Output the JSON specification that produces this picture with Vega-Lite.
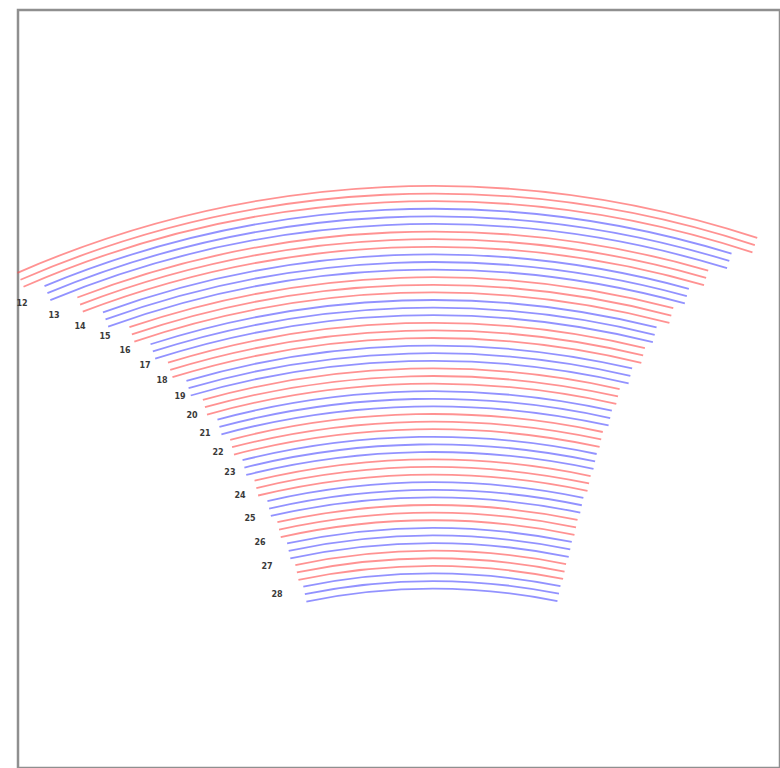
{
  "$schema": "https://vega.github.io/schema/vega-lite/v6.json",
  "width": 762,
  "height": 758,
  "padding": {"left": 18, "top": 10, "right": 0, "bottom": 0},
  "autosize": {"type": "none"},
  "background": "white",
  "config": {"view": {"stroke": "#8f8f8f", "strokeWidth": 2.5}},
  "datasets": {
    "arcs": [
      {"group": 1, "line": 1, "r": 51.90, "start": -23.6, "end": 18.2, "band": "odd"},
      {"group": 1, "line": 2, "r": 51.52, "start": -23.6, "end": 18.2, "band": "odd"},
      {"group": 1, "line": 3, "r": 51.14, "start": -23.6, "end": 18.2, "band": "odd"},
      {"group": 2, "line": 1, "r": 50.76, "start": -22.5, "end": 17.1, "band": "even"},
      {"group": 2, "line": 2, "r": 50.38, "start": -22.5, "end": 17.1, "band": "even"},
      {"group": 2, "line": 3, "r": 50.00, "start": -22.5, "end": 17.1, "band": "even"},
      {"group": 3, "line": 1, "r": 49.62, "start": -21.0, "end": 16.1, "band": "odd"},
      {"group": 3, "line": 2, "r": 49.24, "start": -21.0, "end": 16.1, "band": "odd"},
      {"group": 3, "line": 3, "r": 48.86, "start": -21.0, "end": 16.1, "band": "odd"},
      {"group": 4, "line": 1, "r": 48.48, "start": -19.9, "end": 15.3, "band": "even"},
      {"group": 4, "line": 2, "r": 48.10, "start": -19.9, "end": 15.3, "band": "even"},
      {"group": 4, "line": 3, "r": 47.72, "start": -19.9, "end": 15.3, "band": "even"},
      {"group": 5, "line": 1, "r": 47.34, "start": -18.7, "end": 14.7, "band": "odd"},
      {"group": 5, "line": 2, "r": 46.96, "start": -18.7, "end": 14.7, "band": "odd"},
      {"group": 5, "line": 3, "r": 46.58, "start": -18.7, "end": 14.7, "band": "odd"},
      {"group": 6, "line": 1, "r": 46.20, "start": -17.8, "end": 14.0, "band": "even"},
      {"group": 6, "line": 2, "r": 45.82, "start": -17.8, "end": 14.0, "band": "even"},
      {"group": 6, "line": 3, "r": 45.44, "start": -17.8, "end": 14.0, "band": "even"},
      {"group": 7, "line": 1, "r": 45.06, "start": -17.1, "end": 13.6, "band": "odd"},
      {"group": 7, "line": 2, "r": 44.68, "start": -17.1, "end": 13.6, "band": "odd"},
      {"group": 7, "line": 3, "r": 44.30, "start": -17.1, "end": 13.6, "band": "odd"},
      {"group": 8, "line": 1, "r": 43.92, "start": -16.3, "end": 13.1, "band": "even"},
      {"group": 8, "line": 2, "r": 43.54, "start": -16.3, "end": 13.1, "band": "even"},
      {"group": 8, "line": 3, "r": 43.16, "start": -16.3, "end": 13.1, "band": "even"},
      {"group": 9, "line": 1, "r": 42.78, "start": -15.6, "end": 12.6, "band": "odd"},
      {"group": 9, "line": 2, "r": 42.40, "start": -15.6, "end": 12.6, "band": "odd"},
      {"group": 9, "line": 3, "r": 42.02, "start": -15.6, "end": 12.6, "band": "odd"},
      {"group": 10, "line": 1, "r": 41.64, "start": -15.0, "end": 12.4, "band": "even"},
      {"group": 10, "line": 2, "r": 41.26, "start": -15.0, "end": 12.4, "band": "even"},
      {"group": 10, "line": 3, "r": 40.88, "start": -15.0, "end": 12.4, "band": "even"},
      {"group": 11, "line": 1, "r": 40.50, "start": -14.5, "end": 12.1, "band": "odd"},
      {"group": 11, "line": 2, "r": 40.12, "start": -14.5, "end": 12.1, "band": "odd"},
      {"group": 11, "line": 3, "r": 39.74, "start": -14.5, "end": 12.1, "band": "odd"},
      {"group": 12, "line": 1, "r": 39.36, "start": -14.0, "end": 12.0, "band": "even"},
      {"group": 12, "line": 2, "r": 38.98, "start": -14.0, "end": 12.0, "band": "even"},
      {"group": 12, "line": 3, "r": 38.60, "start": -14.0, "end": 12.0, "band": "even"},
      {"group": 13, "line": 1, "r": 38.22, "start": -13.5, "end": 11.9, "band": "odd"},
      {"group": 13, "line": 2, "r": 37.84, "start": -13.5, "end": 11.9, "band": "odd"},
      {"group": 13, "line": 3, "r": 37.46, "start": -13.5, "end": 11.9, "band": "odd"},
      {"group": 14, "line": 1, "r": 37.08, "start": -12.9, "end": 11.7, "band": "even"},
      {"group": 14, "line": 2, "r": 36.70, "start": -12.9, "end": 11.7, "band": "even"},
      {"group": 14, "line": 3, "r": 36.32, "start": -12.9, "end": 11.7, "band": "even"},
      {"group": 15, "line": 1, "r": 35.94, "start": -12.5, "end": 11.6, "band": "odd"},
      {"group": 15, "line": 2, "r": 35.56, "start": -12.5, "end": 11.6, "band": "odd"},
      {"group": 15, "line": 3, "r": 35.18, "start": -12.5, "end": 11.6, "band": "odd"},
      {"group": 16, "line": 1, "r": 34.80, "start": -12.1, "end": 11.5, "band": "even"},
      {"group": 16, "line": 2, "r": 34.42, "start": -12.1, "end": 11.5, "band": "even"},
      {"group": 16, "line": 3, "r": 34.04, "start": -12.1, "end": 11.5, "band": "even"},
      {"group": 17, "line": 1, "r": 33.66, "start": -11.8, "end": 11.4, "band": "odd"},
      {"group": 17, "line": 2, "r": 33.28, "start": -11.8, "end": 11.4, "band": "odd"},
      {"group": 17, "line": 3, "r": 32.90, "start": -11.8, "end": 11.4, "band": "odd"},
      {"group": 18, "line": 1, "r": 32.52, "start": -11.5, "end": 11.3, "band": "even"},
      {"group": 18, "line": 2, "r": 32.14, "start": -11.5, "end": 11.3, "band": "even"},
      {"group": 18, "line": 3, "r": 31.76, "start": -11.5, "end": 11.3, "band": "even"}
    ],
    "labels": [
      {"row": "12", "r": 50.38, "angle": -24.07},
      {"row": "13", "r": 49.20, "angle": -22.65},
      {"row": "14", "r": 48.20, "angle": -21.48},
      {"row": "15", "r": 47.29, "angle": -20.29},
      {"row": "16", "r": 46.29, "angle": -19.43},
      {"row": "17", "r": 45.25, "angle": -18.55},
      {"row": "18", "r": 44.28, "angle": -17.82},
      {"row": "19", "r": 43.24, "angle": -17.01},
      {"row": "20", "r": 42.16, "angle": -16.61},
      {"row": "21", "r": 41.11, "angle": -16.10},
      {"row": "22", "r": 40.02, "angle": -15.58},
      {"row": "23", "r": 38.90, "angle": -15.13},
      {"row": "24", "r": 37.66, "angle": -14.85},
      {"row": "25", "r": 36.42, "angle": -14.55},
      {"row": "26", "r": 35.13, "angle": -14.25},
      {"row": "27", "r": 33.88, "angle": -14.18},
      {"row": "28", "r": 32.41, "angle": -13.93}
    ]
  },
  "encoding": {
    "x": {"datum": 0, "type": "quantitative", "scale": {"domain": [-20.75, 17.35], "nice": false, "zero": false}, "axis": null},
    "y": {"datum": 0, "type": "quantitative", "scale": {"domain": [22.8, 60.7], "nice": false, "zero": false}, "axis": null}
  },
  "layer": [
    {
      "data": {"name": "arcs"},
      "mark": {"type": "arc", "filled": false, "strokeWidth": 1.8, "opacity": 0.6},
      "encoding": {
        "theta": {"field": "start", "type": "quantitative", "stack": null, "scale": {"domain": [0, 360], "range": [0, 6.283185307179586]}},
        "theta2": {"field": "end"},
        "radius": {"field": "r", "type": "quantitative", "stack": null, "scale": {"type": "linear", "domain": [0, 60], "range": [0, 1200], "zero": true}},
        "radius2": {"field": "r"},
        "color": {"field": "band", "type": "nominal", "scale": {"domain": ["odd", "even"], "range": ["#ff4a4a", "#4a4aff"]}, "legend": null}
      }
    },
    {
      "data": {"name": "labels"},
      "mark": {"type": "text", "font": "DejaVu Sans", "fontSize": 8, "fontWeight": "bold", "color": "#3a3a3a", "align": "center", "baseline": "middle"},
      "encoding": {
        "theta": {"field": "angle", "type": "quantitative", "stack": null},
        "radius": {"field": "r", "type": "quantitative", "stack": null},
        "text": {"field": "row"}
      }
    }
  ]
}
